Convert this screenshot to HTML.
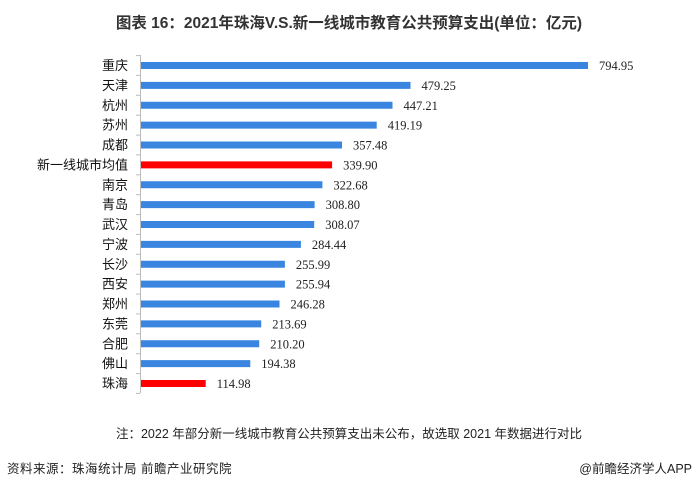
<!DOCTYPE html>
<html><head><meta charset="utf-8"><style>
body{margin:0;width:699px;height:491px;background:#fff;overflow:hidden}
.c{font-family:"Liberation Sans","Noto Sans CJK SC",sans-serif;font-size:13px;fill:#111;text-anchor:end}
.v{font-family:"Liberation Serif",serif;font-size:12.5px;fill:#222}
.b{fill:#3a85e0}.r{fill:#ff0000}
</style></head><body>
<svg width="699" height="491" xmlns="http://www.w3.org/2000/svg">
<text x="349" y="28" text-anchor="middle" font-size="15.5" font-weight="bold" fill="#333" font-family="Liberation Sans, Noto Sans CJK SC, sans-serif">图表 16：2021年珠海V.S.新一线城市教育公共预算支出(单位：亿元)</text>
<line x1="140.5" y1="55" x2="140.5" y2="393" stroke="#bbb" stroke-width="1"/>
<g stroke="#bbb">
<line x1="136" x2="140" y1="55.6" y2="55.6"/><line x1="136" x2="140" y1="75.4" y2="75.4"/><line x1="136" x2="140" y1="95.3" y2="95.3"/><line x1="136" x2="140" y1="115.2" y2="115.2"/><line x1="136" x2="140" y1="135.1" y2="135.1"/><line x1="136" x2="140" y1="154.9" y2="154.9"/><line x1="136" x2="140" y1="174.8" y2="174.8"/><line x1="136" x2="140" y1="194.7" y2="194.7"/><line x1="136" x2="140" y1="214.6" y2="214.6"/><line x1="136" x2="140" y1="234.4" y2="234.4"/><line x1="136" x2="140" y1="254.3" y2="254.3"/><line x1="136" x2="140" y1="274.2" y2="274.2"/><line x1="136" x2="140" y1="294.1" y2="294.1"/><line x1="136" x2="140" y1="313.9" y2="313.9"/><line x1="136" x2="140" y1="333.8" y2="333.8"/><line x1="136" x2="140" y1="353.7" y2="353.7"/><line x1="136" x2="140" y1="373.6" y2="373.6"/><line x1="136" x2="140" y1="393.4" y2="393.4"/>
</g>
<g transform="translate(0,65.5)"><rect class="b" x="141" y="-3.5" width="447" height="7"/><text class="c" x="128" y="4.5">重庆</text><text class="v" x="599" y="4.5">794.95</text></g>
<g transform="translate(0,85.375)"><rect class="b" x="141" y="-3.5" width="269.5" height="7"/><text class="c" x="128" y="4.5">天津</text><text class="v" x="421.5" y="4.5">479.25</text></g>
<g transform="translate(0,105.25)"><rect class="b" x="141" y="-3.5" width="251.5" height="7"/><text class="c" x="128" y="4.5">杭州</text><text class="v" x="403.5" y="4.5">447.21</text></g>
<g transform="translate(0,125.125)"><rect class="b" x="141" y="-3.5" width="235.7" height="7"/><text class="c" x="128" y="4.5">苏州</text><text class="v" x="387.7" y="4.5">419.19</text></g>
<g transform="translate(0,145)"><rect class="b" x="141" y="-3.5" width="201" height="7"/><text class="c" x="128" y="4.5">成都</text><text class="v" x="353" y="4.5">357.48</text></g>
<g transform="translate(0,164.875)"><rect class="r" x="141" y="-3.5" width="191.1" height="7"/><text class="c" x="128" y="4.5">新一线城市均值</text><text class="v" x="343.1" y="4.5">339.90</text></g>
<g transform="translate(0,184.75)"><rect class="b" x="141" y="-3.5" width="181.4" height="7"/><text class="c" x="128" y="4.5">南京</text><text class="v" x="333.4" y="4.5">322.68</text></g>
<g transform="translate(0,204.625)"><rect class="b" x="141" y="-3.5" width="173.6" height="7"/><text class="c" x="128" y="4.5">青岛</text><text class="v" x="325.6" y="4.5">308.80</text></g>
<g transform="translate(0,224.5)"><rect class="b" x="141" y="-3.5" width="173.2" height="7"/><text class="c" x="128" y="4.5">武汉</text><text class="v" x="325.2" y="4.5">308.07</text></g>
<g transform="translate(0,244.375)"><rect class="b" x="141" y="-3.5" width="159.9" height="7"/><text class="c" x="128" y="4.5">宁波</text><text class="v" x="311.9" y="4.5">284.44</text></g>
<g transform="translate(0,264.25)"><rect class="b" x="141" y="-3.5" width="143.9" height="7"/><text class="c" x="128" y="4.5">长沙</text><text class="v" x="295.9" y="4.5">255.99</text></g>
<g transform="translate(0,284.125)"><rect class="b" x="141" y="-3.5" width="143.9" height="7"/><text class="c" x="128" y="4.5">西安</text><text class="v" x="295.9" y="4.5">255.94</text></g>
<g transform="translate(0,304)"><rect class="b" x="141" y="-3.5" width="138.5" height="7"/><text class="c" x="128" y="4.5">郑州</text><text class="v" x="290.5" y="4.5">246.28</text></g>
<g transform="translate(0,323.875)"><rect class="b" x="141" y="-3.5" width="120.2" height="7"/><text class="c" x="128" y="4.5">东莞</text><text class="v" x="272.2" y="4.5">213.69</text></g>
<g transform="translate(0,343.75)"><rect class="b" x="141" y="-3.5" width="118.2" height="7"/><text class="c" x="128" y="4.5">合肥</text><text class="v" x="270.2" y="4.5">210.20</text></g>
<g transform="translate(0,363.625)"><rect class="b" x="141" y="-3.5" width="109.3" height="7"/><text class="c" x="128" y="4.5">佛山</text><text class="v" x="261.3" y="4.5">194.38</text></g>
<g transform="translate(0,383.5)"><rect class="r" x="141" y="-3.5" width="64.7" height="7"/><text class="c" x="128" y="4.5">珠海</text><text class="v" x="216.7" y="4.5">114.98</text></g>
<text x="349" y="438" text-anchor="middle" font-size="12.5" fill="#222" font-family="Liberation Sans, Noto Sans CJK SC, sans-serif">注：2022 年部分新一线城市教育公共预算支出未公布，故选取 2021 年数据进行对比</text>
<text x="7" y="473" font-size="12.5" fill="#222" letter-spacing="0.5" font-family="Liberation Sans, Noto Sans CJK SC, sans-serif">资料来源：珠海统计局 前瞻产业研究院</text>
<text x="692" y="473" text-anchor="end" font-size="12.5" fill="#222" font-family="Liberation Sans, Noto Sans CJK SC, sans-serif">@前瞻经济学人APP</text>
</svg>
</body></html>
